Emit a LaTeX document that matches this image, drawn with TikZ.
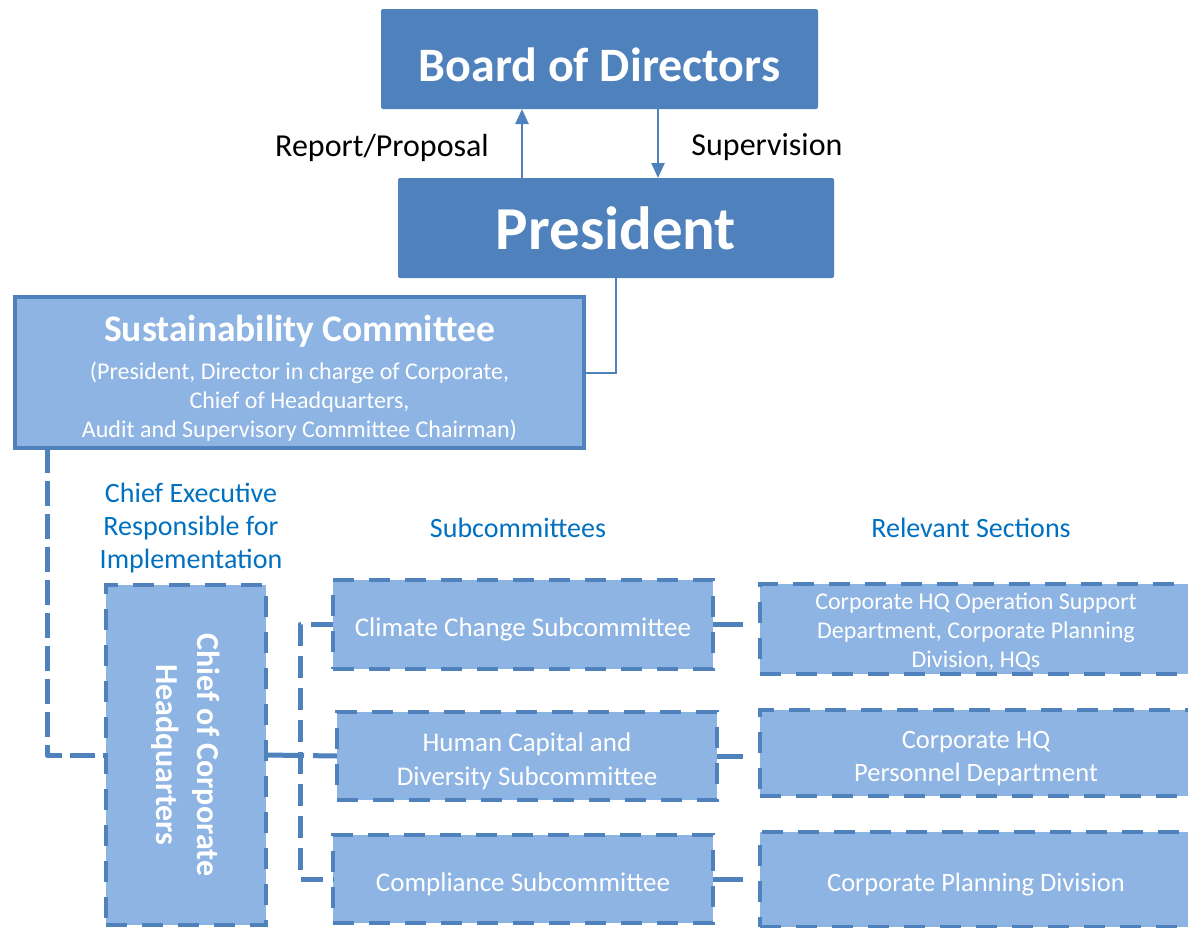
\documentclass[tikz,border=0pt]{standalone}
\usepackage{fontspec}
\setmainfont{Carlito}
\usetikzlibrary{arrows.meta}
\definecolor{darkbox}{HTML}{4F81BD}
\definecolor{lightbox}{HTML}{8EB4E3}
\definecolor{labelblue}{HTML}{0070C0}
\newcommand{\fs}[2]{\fontsize{#1}{#2}\selectfont}

\begin{document}
\begin{tikzpicture}[x=1pt,y=-1pt,
    topbox/.style={rectangle,fill=darkbox,text=white,rounded corners=2pt,inner sep=0pt,outer sep=0pt},
    subbox/.style={rectangle,fill=lightbox,draw=darkbox,line width=4.5pt,dash pattern=on 21pt off 15pt,
        inner sep=0pt,outer sep=0pt},
    boxtext/.style={text=white,align=center,yshift=-5pt},
    conn/.style={draw=darkbox,line width=5pt,dash pattern=on 22pt off 10pt,line join=round},
    thinline/.style={draw=darkbox,line width=2.5pt},
    head/.style={text=labelblue,align=center,font=\fs{28}{33}}]
    \useasboundingbox (0,0) rectangle (1188,927);
    \clip (0,0) rectangle (1188,927);
    % top of the chart
    \node[topbox,minimum width=437,minimum height=100,
        label={[boxtext,yshift=-1pt,font=\bfseries\fs{48}{52}]center:Board of Directors}] (board) at (599.5,59) {};
    \node[topbox,minimum width=436,minimum height=100,font=\bfseries\fs{61}{66}] (president) at (616,228) {President};
    \node[font=\fs{32}{36}] (report) at (382,148) {Report/Proposal};
    \node[font=\fs{32}{36}] (supervision) at (767,147) {Supervision};
    \node[rectangle,fill=lightbox,draw=darkbox,line width=4pt,minimum width=569,minimum height=151,inner sep=0pt,
        outer sep=0pt,label={[boxtext,yshift=-1pt,font=\fs{24}{29}]center:{{\bfseries\fs{37.5}{42}Sustainability Committee}\\[9pt]
        (President, Director in charge of Corporate,\\Chief of Headquarters,\\Audit and Supervisory Committee Chairman)}}]
        (sust) at (299.5,372.5) {};
    % headings
    \node[head] (exec) at (191,528) {Chief Executive\\Responsible for\\Implementation};
    \node[head] (subhead) at (518,528) {Subcommittees};
    \node[head] (relhead) at (971,528) {Relevant Sections};
    % dashed boxes
    \node[subbox,minimum width=160,minimum height=340] (chief) at (186,755) {};
    \node[rotate=-90,text=white,align=center,font=\bfseries\fs{32}{41}] (chieftext) at (chief.center)
        {Chief of Corporate\\Headquarters};
    \node[subbox,minimum width=380,minimum height=89,
        label={[boxtext,font=\fs{27}{32}]center:Climate Change Subcommittee}] (climate) at (523,624.5) {};
    \node[subbox,minimum width=380,minimum height=88,
        label={[boxtext,font=\fs{27}{34}]center:Human Capital and\\Diversity Subcommittee}] (human) at (527,756) {};
    \node[subbox,minimum width=380,minimum height=88,
        label={[boxtext,font=\fs{27}{32}]center:Compliance Subcommittee}] (compliance) at (523,879) {};
    \node[subbox,minimum width=432,minimum height=90,
        label={[boxtext,yshift=2pt,font=\fs{24}{29}]center:{Corporate HQ Operation Support\\Department, Corporate Planning\\Division, HQs}}]
        (ops) at (976,629) {};
    \node[subbox,minimum width=432,minimum height=86,
        label={[boxtext,yshift=-1pt,font=\fs{26.5}{33}]center:Corporate HQ\\Personnel Department}] (personnel) at (976,753) {};
    \node[subbox,minimum width=432,minimum height=95,
        label={[boxtext,font=\fs{26.5}{32}]center:Corporate Planning Division}] (planning) at (976,879.5) {};
    % connectors
    \coordinate (up) at ([xshift=-94]president.north);
    \coordinate (down) at ([xshift=58.5]board.south);
    \draw[thinline,-{Triangle[width=13pt,length=15pt]}] (up) -- (up |- board.south);
    \draw[thinline,-{Triangle[width=13pt,length=15pt]}] (down) -- (down |- president.north);
    \draw[darkbox,line width=2pt] (president.south) |- (sust.east);
    \draw[conn,dash pattern=on 25pt off 8pt] ([xshift=32]sust.south west) |- (chief.west);
    \coordinate (spine) at ([xshift=34]chief.east);
    \draw[conn,dash pattern=on 38pt off 9pt] (chief.east) -- (human.west);
    \draw[conn] (climate.west) -| (spine) |- (compliance.west);
    \foreach \a/\b in {climate/ops,human/personnel,compliance/planning}
        \draw[conn,solid,shorten >=17pt] (\a.east) -- (\a.east -| \b.west);
\end{tikzpicture}
\end{document}
